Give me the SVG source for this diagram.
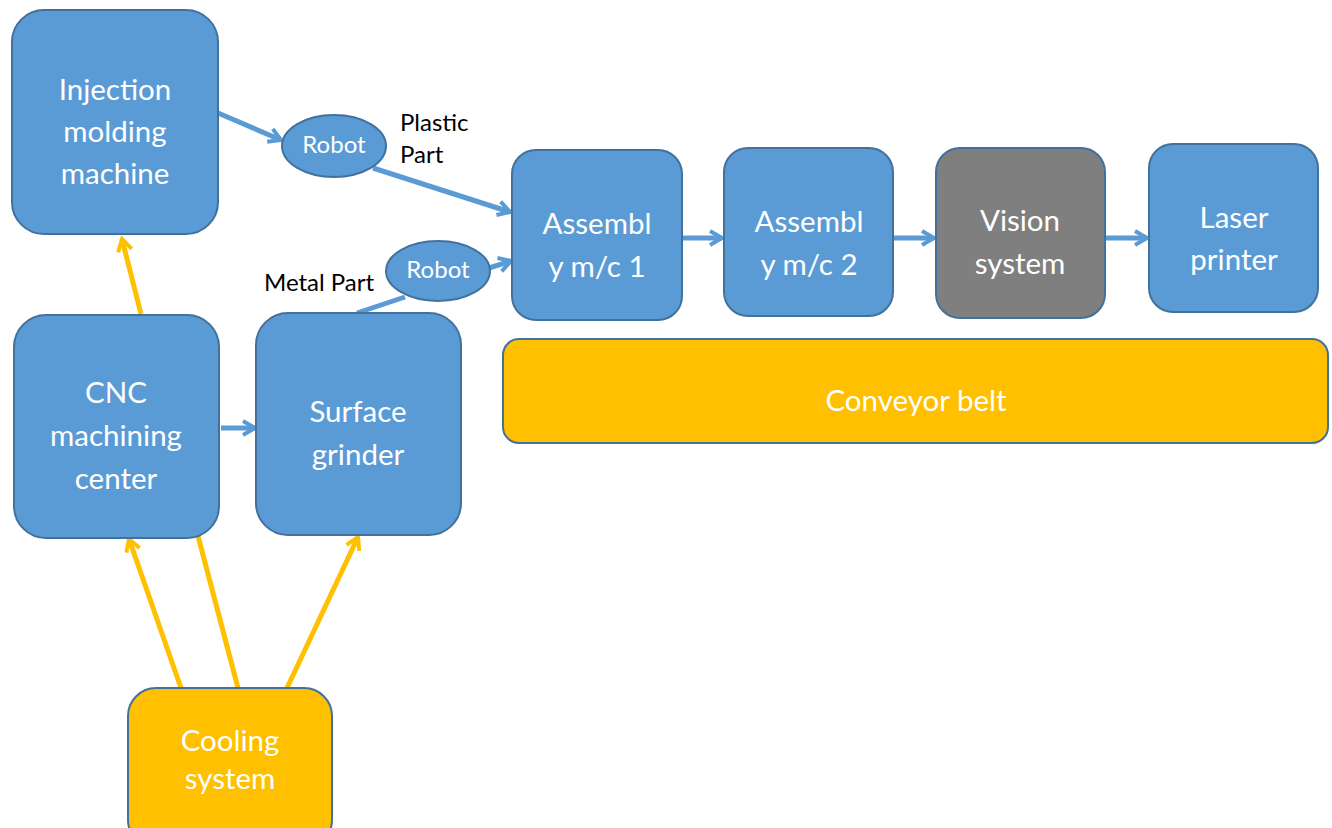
<svg xmlns="http://www.w3.org/2000/svg" width="1332" height="828" viewBox="0 0 1332 828">
  <style>
    .box { fill: #5b9bd5; stroke: #41719c; stroke-width: 2; }
    .gray { fill: #7f7f7f; stroke: #41719c; stroke-width: 2; }
    .yellow { fill: #ffc000; stroke: #41719c; stroke-width: 2; }
    .lbl { font-family: Lato, "Liberation Sans", sans-serif; font-size: 29.5px; fill: #ffffff; text-anchor: middle; dominant-baseline: central; }
    .small { font-family: Lato, "Liberation Sans", sans-serif; font-size: 24px; fill: #ffffff; text-anchor: middle; dominant-baseline: central; }
    .note { font-family: Lato, "Liberation Sans", sans-serif; font-size: 24px; fill: #000000; dominant-baseline: central; }
    .bl { stroke: #5b9bd5; stroke-width: 5; fill: none; }
    .yl { stroke: #ffc000; stroke-width: 5; fill: none; }
  </style>
  <defs>
    <marker id="arrB" markerUnits="userSpaceOnUse" markerWidth="20" markerHeight="20" refX="14" refY="10" orient="auto" viewBox="0 0 20 20">
      <path d="M2,3 L14,10 L2,17" fill="none" stroke="#5b9bd5" stroke-width="4"/>
    </marker>
    <marker id="arrY" markerUnits="userSpaceOnUse" markerWidth="20" markerHeight="20" refX="14" refY="10" orient="auto" viewBox="0 0 20 20">
      <path d="M2,3 L14,10 L2,17" fill="none" stroke="#ffc000" stroke-width="4"/>
    </marker>
  </defs>

  <!-- connectors -->
  <g id="connectors">
    <line class="bl" x1="218" y1="113" x2="281" y2="140" marker-end="url(#arrB)"/>
    <line class="bl" x1="373" y1="168" x2="510" y2="212" marker-end="url(#arrB)"/>
    <line class="bl" x1="357" y1="313" x2="405" y2="297"/>
    <line class="bl" x1="489" y1="268" x2="511" y2="261" marker-end="url(#arrB)"/>
    <line class="bl" x1="682" y1="238" x2="722" y2="238" marker-end="url(#arrB)"/>
    <line class="bl" x1="893" y1="238" x2="934" y2="238" marker-end="url(#arrB)"/>
    <line class="bl" x1="1105" y1="238" x2="1147" y2="238" marker-end="url(#arrB)"/>
    <line class="bl" x1="221" y1="428" x2="255" y2="428" marker-end="url(#arrB)"/>
    <line class="yl" x1="141" y1="314" x2="122" y2="239" marker-end="url(#arrY)"/>
    <line class="yl" x1="181" y1="688" x2="129" y2="539" marker-end="url(#arrY)"/>
    <line class="yl" x1="238" y1="688" x2="198" y2="536"/>
    <line class="yl" x1="287" y1="688" x2="358" y2="537" marker-end="url(#arrY)"/>
  </g>

  <g id="injection">
    <rect class="box" x="12" y="10" width="206" height="224" rx="32"/>
    <text class="lbl" x="115" y="88">Injection</text>
    <text class="lbl" x="115" y="130">molding</text>
    <text class="lbl" x="115" y="172">machine</text>
  </g>

  <g id="robot1">
    <ellipse class="box" cx="334" cy="146" rx="52" ry="31"/>
    <text class="small" x="334" y="143">Robot</text>
  </g>
  <g id="plastic-label">
    <text class="note" x="400" y="121">Plastic</text>
    <text class="note" x="400" y="153">Part</text>
  </g>

  <g id="robot2">
    <ellipse class="box" cx="438" cy="271" rx="52" ry="30"/>
    <text class="small" x="438" y="268">Robot</text>
  </g>
  <g id="metal-label">
    <text class="note" x="264" y="281">Metal Part</text>
  </g>

  <g id="assembly1">
    <rect class="box" x="512" y="150" width="170" height="170" rx="24"/>
    <text class="lbl" x="597" y="222">Assembl</text>
    <text class="lbl" x="597" y="265">y m/c 1</text>
  </g>

  <g id="assembly2">
    <rect class="box" x="724" y="148" width="169" height="168" rx="24"/>
    <text class="lbl" x="809" y="220">Assembl</text>
    <text class="lbl" x="809" y="263">y m/c 2</text>
  </g>

  <g id="vision">
    <rect class="gray" x="936" y="148" width="169" height="170" rx="24"/>
    <text class="lbl" x="1020" y="219">Vision</text>
    <text class="lbl" x="1020" y="262">system</text>
  </g>

  <g id="laser">
    <rect class="box" x="1149" y="144" width="169" height="168" rx="24"/>
    <text class="lbl" x="1234" y="216">Laser</text>
    <text class="lbl" x="1234" y="258">printer</text>
  </g>

  <g id="conveyor">
    <rect class="yellow" x="503" y="339" width="825" height="104" rx="16"/>
    <text class="lbl" x="916" y="399">Conveyor belt</text>
  </g>

  <g id="cnc">
    <rect class="box" x="14" y="315" width="205" height="223" rx="32"/>
    <text class="lbl" x="116" y="391">CNC</text>
    <text class="lbl" x="116" y="434">machining</text>
    <text class="lbl" x="116" y="477">center</text>
  </g>

  <g id="grinder">
    <rect class="box" x="256" y="313" width="205" height="222" rx="32"/>
    <text class="lbl" x="358" y="410">Surface</text>
    <text class="lbl" x="358" y="453">grinder</text>
  </g>

  <g id="cooling">
    <rect class="yellow" x="128" y="688" width="204" height="160" rx="28"/>
    <text class="lbl" x="230" y="739">Cooling</text>
    <text class="lbl" x="230" y="777">system</text>
  </g>
</svg>
